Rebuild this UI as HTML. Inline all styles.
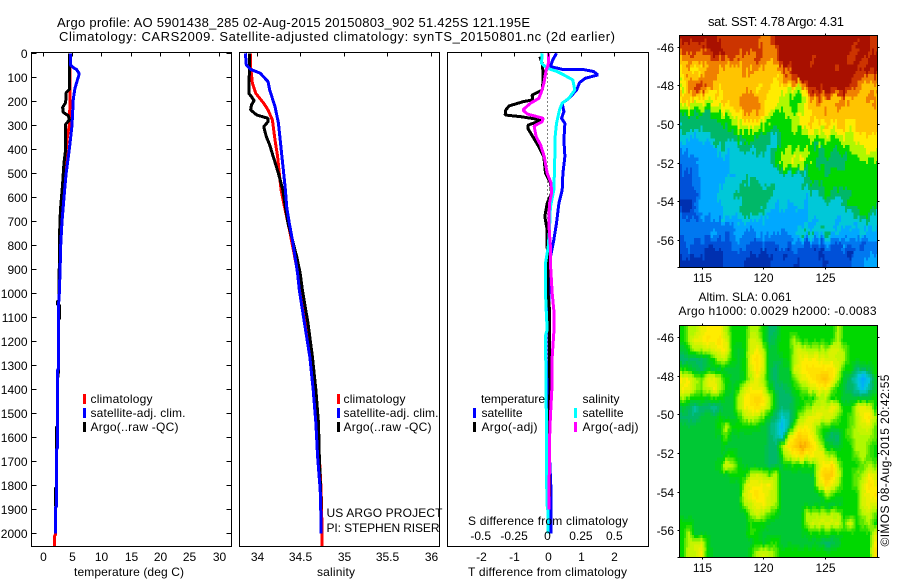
<!DOCTYPE html>
<html lang="en">
<head>
<meta charset="utf-8">
<title>Argo profile 5901438_285</title>
<style>
html,body{margin:0;padding:0;background:#fff;width:900px;height:580px;overflow:hidden;}
#chart{display:block;position:absolute;left:0;top:0;}
text{font-family:"Liberation Sans",Arial,sans-serif;font-size:12px;fill:#000;}
.title{font-size:13px;}
.frame{fill:none;stroke:#000;stroke-width:1;shape-rendering:crispEdges;}
.tick{stroke:#000;stroke-width:1;shape-rendering:crispEdges;}
.line{fill:none;stroke-width:3;stroke-linejoin:bevel;shape-rendering:crispEdges;}
#heat-sst rect,#heat-sla rect{shape-rendering:crispEdges;}
</style>
</head>
<body>
<svg id="chart" xmlns="http://www.w3.org/2000/svg" width="900" height="580" viewBox="0 0 900 580">
  <defs>
    <clipPath id="clip-sst"><rect x="680" y="36" width="197" height="231"/></clipPath>
    <clipPath id="clip-sla"><rect x="680" y="326" width="197" height="231"/></clipPath>
  </defs>

  <text class="title" x="57" y="27" textLength="473">Argo profile: AO 5901438_285 02-Aug-2015 20150803_902 51.425S 121.195E</text>
  <text class="title" x="59" y="41" textLength="556">Climatology: CARS2009. Satellite-adjusted climatology: synTS_20150801.nc (2d earlier)</text>

  <g id="heat-sst" clip-path="url(#clip-sst)"></g>
  <g id="heat-sla" clip-path="url(#clip-sla)"></g>

  <g id="marks"></g>
  <g id="axes"></g>

  <rect class="frame" x="31.5" y="52.5" width="200" height="494"/>
  <rect class="frame" x="239.5" y="52.5" width="200" height="494"/>
  <rect class="frame" x="447.5" y="52.5" width="201" height="494"/>
  <rect class="frame" x="679.5" y="35.5" width="198" height="232"/>
  <rect class="frame" x="679.5" y="325.5" width="198" height="232"/>

  <text x="74" y="576" textLength="110">temperature (deg C)</text>
  <text x="317" y="576" textLength="38">salinity</text>
  <text x="468" y="576" textLength="159">T difference from climatology</text>
  <text x="468" y="525" textLength="160">S difference from climatology</text>

  <g>
    <rect x="83" y="394" width="3" height="10" fill="#f00"/>
    <text x="90.5" y="403" textLength="62">climatology</text>
    <rect x="83" y="408" width="3" height="10" fill="#00f"/>
    <text x="90.5" y="417" textLength="95">satellite-adj. clim.</text>
    <rect x="83" y="422" width="3" height="10" fill="#000"/>
    <text x="90.5" y="431" textLength="88">Argo(..raw -QC)</text>
  </g>
  <g>
    <rect x="337" y="394" width="3" height="10" fill="#f00"/>
    <text x="343.5" y="403" textLength="62">climatology</text>
    <rect x="337" y="408" width="3" height="10" fill="#00f"/>
    <text x="343.5" y="417" textLength="95">satellite-adj. clim.</text>
    <rect x="337" y="422" width="3" height="10" fill="#000"/>
    <text x="343.5" y="431" textLength="88">Argo(..raw -QC)</text>
  </g>
  <g>
    <text x="481" y="403" textLength="64">temperature</text>
    <rect x="473" y="408" width="3" height="10" fill="#00f"/>
    <text x="481.5" y="417" textLength="41">satellite</text>
    <rect x="473" y="422" width="3" height="10" fill="#000"/>
    <text x="481.5" y="431" textLength="56">Argo(-adj)</text>
    <text x="582.5" y="403" textLength="37">salinity</text>
    <rect x="574" y="408" width="3" height="10" fill="#0ff"/>
    <text x="582.5" y="417" textLength="41">satellite</text>
    <rect x="574" y="422" width="3" height="10" fill="#f0f"/>
    <text x="582.5" y="431" textLength="56">Argo(-adj)</text>
  </g>

  <text x="326.5" y="517" textLength="116">US ARGO PROJECT</text>
  <text x="326.5" y="532" textLength="113">PI: STEPHEN RISER</text>

  <text class="title" x="708" y="26" textLength="136">sat. SST: 4.78 Argo: 4.31</text>
  <text x="698.5" y="301" textLength="93">Altim. SLA: 0.061</text>
  <text x="678.5" y="315" textLength="198">Argo h1000: 0.0029 h2000: -0.0083</text>
  <text transform="translate(889,546.5) rotate(-90)" textLength="172">©IMOS 08-Aug-2015 20:42:55</text>
</svg>

<script>
/* ---------- tick labels ---------- */
const depthTicks = [0,100,200,300,400,500,600,700,800,900,1000,1100,1200,1300,1400,1500,1600,1700,1800,1900,2000];
const tempTicks = [0,5,10,15,20,25,30];
const salTicks = [34,34.5,35,35.5,36];
const salTickLabels = ['34','34.5','35','35.5','36'];
const tDiffTicks = [-2,-1,0,1,2];
const sDiffTicks = [-0.5,-0.25,0,0.25,0.5];
const lonTicks = [115,120,125];
const latTicks = [-46,-48,-50,-52,-54,-56];

/* ---------- temperature profiles (depth m, deg C) ---------- */
const tempClimDepth = [0,100,200,300,350,500,600,800,1000,1050,1316,1320,1645,1650,1888,1892,2005,2010,2055];
const tempClim = [4.68,4.68,4.68,4.57,4.23,3.66,3.37,3.1,2.86,2.73,2.73,2.53,2.53,2.41,2.41,2.24,2.24,2.07,2.07];
const tempSatDepth = [0,50,62,67,85,110,145,190,300,400,505,600,700,800,900,1000,1050,1316,1320,1645,1650,1888,1892,2000];
const tempSat = [4.8,4.8,5.4,5.8,6.27,5.97,5.53,5.25,5.03,4.57,4.0,3.66,3.32,3.1,3.0,2.86,2.73,2.73,2.53,2.53,2.41,2.41,2.24,2.24];
const tempArgoDepth = [0,150,165,205,225,245,260,278,295,408,460,545,610,655,785,880,1030,1034,1048,1049,1104,1110,1320,1347,1350,1555,1558,1645,1650,1810,1812,1889];
const tempArgo = [4.63,4.6,4.0,3.95,3.44,3.5,4.4,4.6,3.95,3.9,3.65,3.42,3.2,3.05,2.87,2.87,2.8,2.55,2.55,2.9,2.9,2.73,2.73,2.64,2.53,2.53,2.36,2.36,2.41,2.41,2.19,2.19];

/* ---------- salinity profiles ---------- */
const salClimDepth = [0,55,125,167,208,236,278,361,430,500,570,640,743,986,1125,1264,1403,1542,1819,1958,2055];
const salClim = [33.93,33.93,33.95,33.99,34.08,34.13,34.18,34.21,34.24,34.26,34.28,34.32,34.38,34.51,34.57,34.63,34.67,34.7,34.74,34.75,34.75];
const salSatDepth = [0,48,67,83,118,153,222,290,361,430,500,570,640,708,778,847,917,986,1125,1264,1403,1542,1680,1819,1958,2000];
const salSat = [33.87,33.88,33.93,34.04,34.13,34.15,34.21,34.25,34.27,34.29,34.31,34.33,34.345,34.375,34.41,34.44,34.47,34.49,34.55,34.61,34.65,34.68,34.7,34.73,34.74,34.74];
const salArgoDepth = [0,167,181,197,215,236,257,271,285,306,347,382,430,500,570,640,708,778,847,917,986,1125,1264,1403,1542,1680,1819,1900];
const salArgo = [33.92,33.91,33.94,33.97,33.94,33.93,34.0,34.13,34.13,34.08,34.11,34.15,34.19,34.25,34.3,34.33,34.36,34.41,34.46,34.5,34.525,34.59,34.64,34.68,34.71,34.72,34.735,34.74];

/* ---------- difference profiles ---------- */
const dTSatDepth = [0,27,55,67,68,76,90,104,122,153,188,208,243,271,292,361,430,500,570,625,708,778,847,917,1007,1125,1403,1680,1800,2000];
const dTSat = [0.27,0.16,0.09,0.44,1.08,1.38,1.51,1.13,0.96,0.87,0.64,0.44,0.49,0.42,0.52,0.49,0.52,0.46,0.44,0.34,0.27,0.19,0.09,0.06,0.04,0.04,0.04,0.06,0.1,0.1];
const dTArgoDepth = [14,42,69,125,153,174,194,201,219,236,257,264,278,299,313,347,389,430,500,541,583,625,680,736,806,917,1007,1070,1166,1389,1900];
const dTArgo = [-0.23,-0.16,-0.14,-0.14,-0.16,-0.46,-0.44,-0.71,-1.15,-1.25,-1.27,-0.8,-0.16,-0.58,-0.59,-0.44,-0.26,-0.11,-0.06,0.09,0.12,-0.01,-0.08,-0.01,-0.01,0.02,0.02,0.06,0.06,0.07,0.05];
const dSSatDepth = [0,42,62,76,90,111,153,188,208,236,292,361,430,500,570,640,736,806,875,1000,1070,1153,1175,1458,1611,1875,1903,2000];
const dSSat = [-0.04,-0.045,-0.002,0.072,0.122,0.189,0.204,0.159,0.109,0.09,0.067,0.055,0.055,0.052,0.047,0.022,0.015,0.005,-0.015,-0.015,-0.01,-0.002,-0.015,-0.01,-0.007,-0.005,0.002,0.005];
const dSArgoDepth = [0,48,69,125,160,188,208,236,253,271,285,303,347,382,430,500,541,583,625,708,806,875,1000,1070,1166,1264,1403,1514,1611,1680,1900];
const dSArgo = [0.01,0.005,-0.01,-0.027,-0.045,-0.065,-0.127,-0.184,-0.152,-0.032,-0.04,-0.10,-0.085,-0.052,-0.025,-0.002,0.027,0.03,0.015,0.01,0.022,0.022,0.035,0.047,0.047,0.035,0.032,0.022,0.015,0.015,0.01];

/* ---------- map grids: colour-scale level per cell, north row first ---------- */
const sstLevels = [
[12,12,12,12,12,12,11,11,11,11,11,11,11,10,10,12,12,12,12,12,12,12,12,12,12,12,12,12,12,12,12,11],
[11,11,11,11,11,12,12,11,11,11,11,11,11,10,10,11,12,12,12,12,12,12,12,12,12,12,12,12,11,12,12,11],
[10,10,10,10,10,10,10,10,11,10,10,10,11,10,10,10,12,12,12,12,12,11,12,12,12,12,12,11,12,12,11,12],
[9,9,8,8,9,10,9,9,9,9,10,10,9,9,9,9,10,11,12,12,12,12,12,12,12,11,12,12,12,11,12,12],
[8,10,10,10,10,9,9,9,9,9,9,9,9,9,9,9,9,10,11,12,12,12,12,12,12,12,12,12,11,10,10,10],
[7,10,11,11,10,9,8,9,9,9,9,9,8,9,9,8,8,8,8,7,11,12,12,12,12,12,12,11,10,9,9,9],
[9,9,8,8,8,8,8,9,9,9,10,10,10,9,8,8,7,7,6,6,8,10,10,9,9,9,10,9,9,9,10,10],
[7,7,6,7,6,7,7,8,8,9,10,10,10,9,8,8,7,7,6,7,8,9,9,10,9,10,9,9,9,9,9,9],
[5,5,5,5,5,5,6,6,7,8,9,10,9,8,7,6,6,7,7,8,8,9,9,9,9,9,9,9,9,9,9,9],
[5,5,5,5,5,5,5,5,6,7,7,8,7,7,6,6,6,6,7,7,8,8,8,8,8,9,9,8,9,9,9,9],
[4,4,3,4,4,5,5,5,5,6,6,6,6,5,5,4,6,6,6,6,6,7,7,7,7,7,8,7,8,8,8,8],
[3,3,3,3,3,3,4,4,4,4,5,5,5,5,4,4,6,6,6,6,6,6,5,6,6,6,6,7,7,7,8,8],
[2,2,3,3,3,3,3,3,4,4,4,4,4,4,4,6,7,7,8,8,7,6,5,5,5,5,5,6,6,7,7,7],
[2,2,2,3,3,3,3,3,4,4,4,4,4,4,4,6,6,7,7,7,6,6,5,5,5,5,5,6,6,6,6,6],
[1,1,2,3,3,3,3,3,3,4,4,4,4,4,4,4,4,4,4,4,5,6,6,6,6,6,6,6,6,6,6,6],
[1,1,2,3,3,3,3,4,4,4,5,5,5,4,4,4,4,4,4,4,5,5,5,6,6,6,6,6,6,6,6,6],
[1,1,1,3,3,3,4,4,4,5,5,5,5,5,5,4,4,4,4,4,4,4,4,5,5,5,5,5,6,6,6,6],
[0,0,2,3,3,3,3,4,4,4,5,5,5,5,4,3,4,3,4,4,3,4,4,4,4,4,4,6,6,6,6,6],
[1,1,1,3,3,3,3,4,4,4,5,5,5,4,3,3,3,3,3,3,3,4,4,4,4,4,4,4,5,6,6,4],
[2,2,2,2,2,2,2,2,3,3,3,3,3,3,3,3,3,3,3,3,3,3,4,4,4,3,4,4,3,4,4,4],
[2,2,2,2,2,3,2,2,2,3,2,2,3,3,3,3,2,3,3,4,5,5,4,5,4,4,3,3,3,4,3,3],
[1,2,1,2,1,1,1,1,2,2,2,2,1,2,1,2,2,2,2,2,1,2,1,2,2,1,2,2,2,1,2,2],
[1,1,1,1,0,0,0,1,1,1,1,1,1,0,1,0,1,0,1,1,1,1,0,1,1,1,1,0,2,2,2,2],
[0,0,0,0,0,0,0,1,1,1,0,0,0,0,0,1,1,1,0,1,1,1,1,0,1,1,1,1,2,2,3,3]
];
const slaLevels = [
[6,7,7,8,8,8,8,7,6,6,6,7,7,6,5,5,6,6,6,6,6,6,6,6,6,7,6,6,6,6,6,6],
[6,7,8,8,8.5,8,8.5,7.5,6,6,6,7.5,7.5,6,5,5.5,6,6,7,6,6,6,6,6,6,7,6,6,6,6,6,6],
[5.5,6,7,7,7.5,7.5,8,8,6,5.5,6,7.5,8,7,5.5,5.5,6,6,7,7.5,7,7,7,7,7.5,7.5,7,6,6,6,6,6],
[5,5,5,5,5.5,6,7,7,6,5.5,6,8,8.5,7.5,5.5,5.5,5.5,6,7,8,8,8,8,7.5,7.5,7.5,7,6,6,6,6,6],
[6,6,5.5,5,5.5,5.5,5.5,5.5,5.5,5.5,6,7.5,8.5,7.5,5.5,5,5.5,5.5,7.5,8,8.5,8.5,8.5,8.5,8.5,7.5,6,6,5,5,5.5,6],
[8,8,7,6.5,7.5,8,7,6,5.5,5.5,6,7,8,7,5.5,5,5.5,5.5,6.5,7.5,8,8.5,9,9.5,8.5,7,5.5,5,4,3,4,5.5],
[8,8,7,6.5,7.5,8,7,6,5.5,6,7.5,8,8,7.5,6,5,5,5.5,6,6.5,7,7.5,8,8,7,6,5.5,5,4.5,3.5,4.5,5.5],
[7,6,6,6,6,6,6,5.5,5.5,7,8,8.5,9,8.5,7,5.5,5,5,5.5,6,6,6,7,7,6,6,5.5,5.5,5.5,5.5,5.5,6],
[5.5,5,4.5,5,5,4.5,5,5.5,5.5,7,8,8.5,8.5,8,7,5.5,5,5,5.5,6,6.5,7,7.5,7.5,8,7.5,6,6,7.5,8,7.5,6],
[5,5,5,5.5,5.5,5.5,6,5.5,5.5,6,7,7.5,7,6.5,5.5,5,4,4.5,5.5,7,7.5,8,8,7.5,7.5,6.5,6,6.5,7,8,8.5,7],
[5.5,5.5,5.5,5.5,5.5,5.5,6,7,6,6,6,6,6,5.5,5,4.5,3.5,4.5,7,8,8,7.5,6.5,6,6,6,6,6.5,7,7.5,7.5,6.5],
[5.5,5.5,5.5,5.5,5.5,5.5,5.5,6.5,5.5,5.5,5.5,5.5,5.5,5.5,5,4.5,4,7,8.5,9,8.5,8,6.5,5.5,5,5,6,6.5,7,7,7,6.5],
[5.5,5.5,5.5,5.5,5.5,5.5,5.5,5.5,5.5,5.5,5.5,5.5,5.5,5.5,5,5,7,8.5,9,10,9.5,8.5,7.5,6,5.5,5.5,6,6,7,7,6.5,6],
[5.5,5.5,5.5,5.5,5.5,5.5,5.5,6,6,5.5,5.5,5.5,5.5,5.5,5,5,6,7.5,8,8.5,8,8,8,7.5,7,6,6,6,6.5,7,6.5,6],
[5.5,5.5,5.5,5.5,5.5,5.5,6,7.5,7,6,5.5,5.5,5.5,5.5,5,5,5.5,6,6,6,6,6,7.5,8.5,8.5,7,6,6,6,6.5,7,6.5],
[5.5,5.5,5.5,5.5,5.5,5.5,5.5,5.5,6,6,6,7,7.5,7,6.5,7,5.5,5.5,5.5,5.5,5.5,5.5,8,9,9,7.5,6,6,6.5,7,8,7.5],
[5.5,5.5,5.5,5.5,5.5,5.5,5.5,5.5,5.5,5.5,7,8,8,8,8,7,5.5,5.5,5.5,5.5,5.5,5.5,7.5,8.5,8,7,6,6,6.5,7.5,8.5,8],
[5.5,5.5,5.5,5.5,5.5,5.5,5.5,5.5,5.5,5.5,7.5,8,8.5,8,7.5,7,5.5,5.5,5.5,5.5,5.5,5.5,5.5,6.5,6.5,6,6,6,6,7.5,8,8.5],
[5.5,5.5,5.5,5.5,5.5,5.5,5.5,5.5,5.5,5.5,7,7.5,8,8,7.5,7,5.5,5.5,5.5,5.5,5.5,5.5,5.5,5.5,5.5,5.5,6,6,6,7.5,8,7.5],
[5.5,5.5,5.5,5.5,5.5,5.5,5.5,5.5,5.5,5.5,5.5,7,7.5,7,6.5,6,5.5,5.5,5.5,5.5,7,7,7,7,7,7,6,6,6,7,7.5,6.5],
[6,6,5.5,5.5,5.5,5.5,5.5,5.5,5.5,5.5,5.5,6,6,6,5.5,5.5,5.5,5.5,5.5,5.5,7,7.5,7.5,7.5,7.5,7.5,6.5,7.5,6,6.5,7,6],
[6,7,5.5,5.5,5.5,5.5,5.5,5.5,5.5,5.5,5.5,6.5,6,5.5,5.5,5.5,5.5,5.5,5.5,5.5,6,6,6,6,6,6,6,6,6,6,6,7.5],
[6,7,7.5,7.5,6,5.5,5.5,5.5,5.5,5.5,5.5,5.5,6,5.5,6,6,5.5,5.5,5.5,5.5,5.5,5.5,5.5,5,5,5.5,6,6,6,6,6,8],
[6,7.5,7.5,8,6,5.5,5.5,5.5,5.5,5.5,5.5,6,7,7.5,7,6.5,6,6,6,6,6,6,6,6,6,6,6,6,6,6,6,8.5]
];

/* ---------- axis functions ---------- */
const yDepth = d => 53.3 + d * 0.24;
const xTemp = t => 42.5 + t * 5.87;
const xSal = s => 256.7 + (s - 34) * 87;
const xDT = t => 547.5 + t * 33.4;
const xDS = s => 547.5 + s * 133.6;
const xLon = lon => 702.3 + (lon - 115) * 12.22;
const ySst = lat => 46.7 + (-46 - lat) * 19.33;
const ySla = lat => 337 + (-46 - lat) * 19.33;

const SVGNS = 'http://www.w3.org/2000/svg';
const marksG = document.getElementById('marks');
const axesG = document.getElementById('axes');

function drawLine(parent, depths, vals, xFn, color, name, cls) {
  const el = document.createElementNS(SVGNS, 'polyline');
  
  
  el.setAttribute('class', cls || 'line');
  el.setAttribute('stroke', color);
  el.setAttribute('points', depths.map((d, i) => xFn(vals[i]).toFixed(1) + ',' + yDepth(d).toFixed(1)).join(' '));
  parent.appendChild(el);
}

function tickMark(x1, y1, x2, y2) {
  const el = document.createElementNS(SVGNS, 'line');
  
  
  el.setAttribute('class', 'tick');
  el.setAttribute('x1', x1);
  el.setAttribute('y1', y1);
  el.setAttribute('x2', x2);
  el.setAttribute('y2', y2);
  axesG.appendChild(el);
}

function tickLabel(x, y, str, anchor) {
  const el = document.createElementNS(SVGNS, 'text');
  
  
  el.setAttribute('x', x);
  el.setAttribute('y', y);
  el.setAttribute('text-anchor', anchor);
  el.textContent = str;
  axesG.appendChild(el);
}

/* series */
drawLine(marksG, tempClimDepth, tempClim, xTemp, '#f00', 'temperature-climatology-line');
drawLine(marksG, tempArgoDepth, tempArgo, xTemp, '#000', 'temperature-argo-line');
drawLine(marksG, tempSatDepth, tempSat, xTemp, '#00f', 'temperature-satellite-line');
drawLine(marksG, salClimDepth, salClim, xSal, '#f00', 'salinity-climatology-line');
drawLine(marksG, salArgoDepth, salArgo, xSal, '#000', 'salinity-argo-line');
drawLine(marksG, salSatDepth, salSat, xSal, '#00f', 'salinity-satellite-line');

const zeroLine = document.createElementNS(SVGNS, 'line');


zeroLine.setAttribute('x1', xDT(0));
zeroLine.setAttribute('x2', xDT(0));
zeroLine.setAttribute('y1', yDepth(0));
zeroLine.setAttribute('y2', yDepth(2000));
zeroLine.setAttribute('stroke', '#000');
zeroLine.setAttribute('stroke-dasharray', '1 3');
zeroLine.setAttribute('shape-rendering', 'crispEdges');
marksG.appendChild(zeroLine);

drawLine(marksG, dTSatDepth, dTSat, xDT, '#00f', 't-difference-satellite-line');
drawLine(marksG, dTArgoDepth, dTArgo, xDT, '#000', 't-difference-argo-line');
drawLine(marksG, dSSatDepth, dSSat, xDS, '#0ff', 's-difference-satellite-line');
drawLine(marksG, dSArgoDepth, dSArgo, xDS, '#f0f', 's-difference-argo-line');

/* profile-panel axes */
depthTicks.forEach(d => {
  const y = Math.round(yDepth(d)) + 0.5;
  tickMark(31.5, y, 36.5, y);
  tickMark(226.5, y, 231.5, y);
  tickLabel(27.5, y + 4.5, String(d), 'end');
});
tempTicks.forEach(t => {
  const x = Math.round(xTemp(t)) + 0.5;
  tickMark(x, 52.5, x, 56.5);
  tickLabel(x, 561, String(t), 'middle');
});
salTicks.forEach((s, i) => {
  const x = Math.round(xSal(s)) + 0.5;
  tickMark(x, 52.5, x, 56.5);
  tickLabel(x, 561, salTickLabels[i], 'middle');
});
tDiffTicks.forEach(t => {
  const x = Math.round(xDT(t)) + 0.5;
  tickMark(x, 52.5, x, 56.5);
  tickLabel(x, 561, String(t), 'middle');
});
sDiffTicks.forEach(s => {
  tickLabel(xDS(s), 540, String(s), 'middle');
});

/* colour scale */
const jetStops = [[0,48,176],[0,80,216],[0,120,240],[0,168,255],[0,200,216],[0,184,104],[0,216,0],[176,248,0],[255,236,0],[255,196,0],[240,128,0],[204,52,0],[168,16,0]];
function levelColor(v) {
  const lo = Math.max(0, Math.min(jetStops.length - 1, Math.floor(v)));
  const hi = Math.min(jetStops.length - 1, lo + 1);
  const f = v - lo;
  const c = jetStops[lo].map((ch, k) => Math.round(ch + (jetStops[hi][k] - ch) * f));
  return 'rgb(' + c.join(',') + ')';
}

const gridLonWest = 113.15;
const gridLonEast = 129.4;
const gridLatNorth = -45.42;
const gridLatSouth = -57.4;

/* bilinear read of a grid at fractional column / row (cell-centre based) */
function gridValue(grid, u, v) {
  const nR = grid.length;
  const nC = grid[0].length;
  const cu = Math.max(0, Math.min(nC - 1, u - 0.5));
  const cv = Math.max(0, Math.min(nR - 1, v - 0.5));
  const c0 = Math.floor(cu);
  const r0 = Math.floor(cv);
  const c1 = Math.min(nC - 1, c0 + 1);
  const r1 = Math.min(nR - 1, r0 + 1);
  const fu = cu - c0;
  const fv = cv - r0;
  return (grid[r0][c0] * (1 - fu) + grid[r0][c1] * fu) * (1 - fv) +
         (grid[r1][c0] * (1 - fu) + grid[r1][c1] * fu) * fv;
}

/* repeatable hash used only for the image-grain texture of the maps */
function grain(a, b) {
  const s = Math.sin(a * 12.9898 + b * 78.233) * 43758.5453;
  return s - Math.floor(s);
}

/* Each grid cell is drawn as small sub-cells. jitter = per-column vertical
   sampling shift (jagged edges); streak = level offset along diagonal streaks. */
function drawHeat(holderId, grid, yFn, cellName, opts) {
  const holder = document.getElementById(holderId);
  const nR = grid.length;
  const nC = grid[0].length;
  const subC = 3;
  const subR = 3;
  for (let r = 0; r < nR * subR; r++) {
    for (let c = 0; c < nC * subC; c++) {
      const u = (c + 0.5) / subC;
      const v = (r + 0.5) / subR;
      const lonW = gridLonWest + (gridLonEast - gridLonWest) * (c / subC) / nC;
      const lonE = gridLonWest + (gridLonEast - gridLonWest) * ((c + 1) / subC) / nC;
      const latN = gridLatNorth + (gridLatSouth - gridLatNorth) * (r / subR) / nR;
      const latS = gridLatNorth + (gridLatSouth - gridLatNorth) * ((r + 1) / subR) / nR;
      const diag = c * 5.2 + r * 3.2;
      const streakId = Math.floor(diag / 11);
      const segId = Math.floor((r + grain(streakId, 3) * 12) / 12);
      const streak = (grain(streakId, segId + 5) - 0.5) * opts.streak;
      const dv = (grain(c, 9) - 0.5) * opts.jitter + (grain(c, r) - 0.5) * opts.jitter * 0.4;
      let val = gridValue(grid, u, v + dv) + streak;
      if (val > 7) val = 7 + (val - 7) * opts.peak;
      val = Math.round(val / opts.step) * opts.step;
      const cell = document.createElementNS(SVGNS, 'rect');
      
      
      cell.setAttribute('x', xLon(lonW).toFixed(2));
      cell.setAttribute('y', yFn(latN).toFixed(2));
      cell.setAttribute('width', (xLon(lonE) - xLon(lonW) + 0.4).toFixed(2));
      cell.setAttribute('height', (yFn(latS) - yFn(latN) + 0.4).toFixed(2));
      cell.setAttribute('fill', levelColor(val));
      holder.appendChild(cell);
    }
  }
}
drawHeat('heat-sst', sstLevels, ySst, 'sst-cell', {jitter: 0.9, streak: 0.85, step: 1, peak: 1});
drawHeat('heat-sla', slaLevels, ySla, 'sla-cell', {jitter: 0.35, streak: 0.2, step: 0.25, peak: 0.85});

/* map axes */
[[ySst, 35.5, 267.5], [ySla, 325.5, 557.5]].forEach(m => {
  const yFn = m[0], top = m[1], bot = m[2];
  lonTicks.forEach(lon => {
    const x = Math.round(xLon(lon)) + 0.5;
    tickMark(x, top - 2, x, top);
    tickMark(x, bot, x, bot + 2);
    tickLabel(x, bot + 14.5, String(lon), 'middle');
  });
  latTicks.forEach(lat => {
    const y = Math.round(yFn(lat)) + 0.5;
    tickMark(677.5, y, 679.5, y);
    tickMark(877.5, y, 879.5, y);
    tickLabel(674, y + 4.5, String(lat), 'end');
  });
  tickMark(677.5, bot, 679.5, bot);
  tickMark(877.5, bot, 879.5, bot);
});
</script>
</body>
</html>
